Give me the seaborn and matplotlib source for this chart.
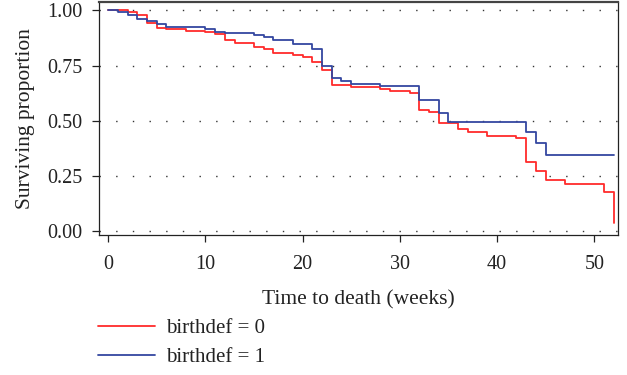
import matplotlib
matplotlib.use("Agg")
import matplotlib.pyplot as plt
import seaborn as sns
import pandas as pd
from matplotlib.lines import Line2D

# Kaplan-Meier step data (time in weeks, surviving proportion after each step)
times_0 = [0, 2, 3, 4, 5, 6, 8, 10, 11, 12, 13, 15, 16, 17, 19, 20, 21, 22, 23, 25,
           28, 29, 31, 32, 33, 34, 36, 37, 39, 42, 43, 44, 45, 47, 51, 52]
surv_0 = [1.0, 0.991, 0.981, 0.942, 0.922, 0.915, 0.907, 0.900, 0.893, 0.866, 0.851,
          0.836, 0.827, 0.806, 0.800, 0.790, 0.766, 0.729, 0.660, 0.652, 0.642, 0.633,
          0.625, 0.550, 0.538, 0.487, 0.460, 0.446, 0.432, 0.419, 0.310, 0.272, 0.230,
          0.211, 0.176, 0.035]

times_1 = [0, 1, 2, 3, 4, 5, 6, 10, 11, 12, 15, 16, 17, 19, 21, 22, 23, 24, 25, 28,
           32, 34, 35, 43, 44, 45, 52]
surv_1 = [1.0, 0.994, 0.980, 0.963, 0.953, 0.938, 0.924, 0.915, 0.902, 0.896, 0.888,
          0.878, 0.867, 0.847, 0.825, 0.747, 0.692, 0.682, 0.668, 0.655, 0.592, 0.533,
          0.495, 0.446, 0.396, 0.346, 0.346]

labels = ["birthdef = 0", "birthdef = 1"]
colors = ["#ff2b2b", "#3447a0"]

x_ticks = [0, 10, 20, 30, 40, 50]
y_ticks = [0.0, 0.25, 0.5, 0.75, 1.0]
y_ticklabels = ["0.00", "0.25", "0.50", "0.75", "1.00"]

df = pd.concat([
    pd.DataFrame({"time": times_0, "surv": surv_0, "group": labels[0]}),
    pd.DataFrame({"time": times_1, "surv": surv_1, "group": labels[1]}),
], ignore_index=True)

sns.set_theme(style="white")
plt.rcParams["font.family"] = ["Liberation Serif", "DejaVu Serif"]

fig = plt.figure(figsize=(6.27, 3.75), dpi=100)
ax = fig.add_axes([0.158, 0.373, 0.827, 0.622])

sns.lineplot(data=df, x="time", y="surv", hue="group", palette=colors,
             drawstyle="steps-post", estimator=None, sort=False,
             linewidth=1.3, ax=ax, legend=False)

ax.set_xlim(-0.93, 52.4)
ax.set_ylim(-0.02, 1.039)
ax.set_xticks(x_ticks)
ax.set_yticks(y_ticks)
ax.set_yticklabels(y_ticklabels)
ax.tick_params(axis="both", direction="out", length=5, width=0.9, color="#222222",
               labelsize=14.5, labelcolor="#222222", bottom=True, left=True)
ax.tick_params(axis="x", pad=9)
ax.tick_params(axis="y", pad=7)
for s in ax.spines.values():
    s.set_color("#222222")
    s.set_linewidth(0.9)
ax.spines["top"].set_linewidth(1.6)
ax.spines["top"].set_color("#444444")

ax.grid(False)
for yv in y_ticks:
    ax.axhline(yv, color="#333333", linewidth=1.0, linestyle=(0, (1, 11)), zorder=0)

ax.set_xlabel("Time to death (weeks)", fontsize=15.5, color="#222222", labelpad=12)
ax.set_ylabel("Surviving proportion", fontsize=15.5, color="#222222", labelpad=9)

handles = [Line2D([0], [0], color=c, linewidth=1.3) for c in colors]
fig.legend(handles, labels, loc="upper left", bbox_to_anchor=(0.156, 0.150),
           frameon=False, fontsize=15, handlelength=2.75, handletextpad=0.5,
           labelspacing=0.45, borderaxespad=0, borderpad=0, labelcolor="#222222")

fig.savefig("out.png", dpi=100)
